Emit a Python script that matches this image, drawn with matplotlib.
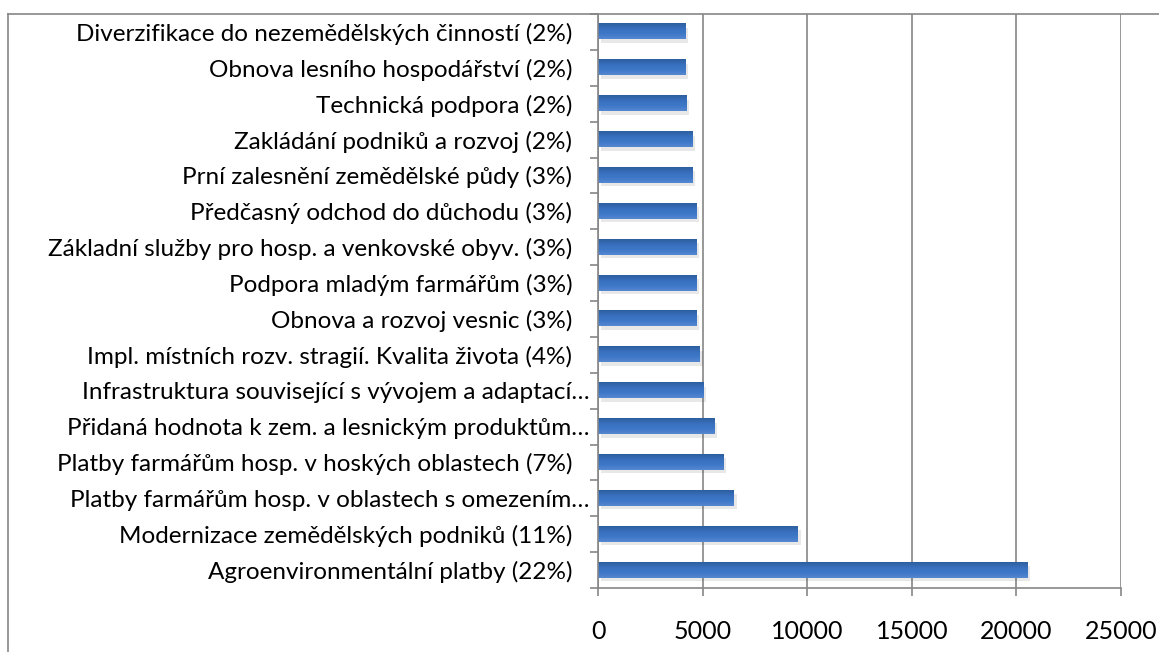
import matplotlib
matplotlib.use("Agg")
import matplotlib.pyplot as plt
import matplotlib.patheffects as pe
from matplotlib.lines import Line2D
from matplotlib.colors import LinearSegmentedColormap
import numpy as np

plt.rcParams['font.family'] = ['Lato', 'DejaVu Sans']

# Data (bottom to top)
categories = [
    "Agroenvironmentální platby (22%)",
    "Modernizace zemědělských podniků (11%)",
    "Platby farmářům hosp. v oblastech s omezením…",
    "Platby farmářům hosp. v hoských oblastech (7%)",
    "Přidaná hodnota k zem. a lesnickým produktům…",
    "Infrastruktura související s vývojem a adaptací…",
    "Impl. místních rozv. stragií. Kvalita života (4%)",
    "Obnova a rozvoj vesnic (3%)",
    "Podpora mladým farmářům (3%)",
    "Základní služby pro hosp. a venkovské obyv. (3%)",
    "Předčasný odchod do důchodu (3%)",
    "Prní zalesnění zemědělské půdy (3%)",
    "Zakládání podniků a rozvoj (2%)",
    "Technická podpora (2%)",
    "Obnova lesního hospodářství (2%)",
    "Diverzifikace do nezemědělských činností (2%)",
]
values = [20540, 9550, 6500, 5990, 5545, 5035, 4875, 4715,
          4685, 4685, 4685, 4525, 4525, 4220, 4160, 4160]
xticks = [0, 5000, 10000, 15000, 20000, 25000]

W, H = 1159, 652
fig = plt.figure(figsize=(W / 100, H / 100), dpi=100)
ax = fig.add_axes([598 / W, 1 - 588 / H, (1121 - 598) / W, (588 - 14) / H])

n = len(categories)
y = np.arange(n)
bars = ax.barh(y, values, height=0.42, color='#3A72C0', zorder=3,
               path_effects=[pe.SimplePatchShadow(offset=(2, -2.5), alpha=0.12, shadow_rgbFace='#444444'), pe.Normal()])

# gradient overlay on each bar
grad = np.linspace(0, 1, 64).reshape(-1, 1)
cmap = LinearSegmentedColormap.from_list('g', ['#5688D0', '#3D78C7', '#3870BD', '#2E5E9F'])
for b in bars:
    x0, y0, w, h = b.get_x(), b.get_y(), b.get_width(), b.get_height()
    ax.imshow(grad, extent=[x0, x0 + w, y0 + h, y0], aspect='auto', cmap=cmap,
              zorder=4, interpolation='bilinear', origin='upper')

ax.set_xlim(0, 25000)
ax.set_ylim(-0.5, n - 0.5)

gray = '#868686'
ax.set_xticks(xticks)
ax.set_xticklabels([str(t) for t in xticks], fontsize=18, color='black')
ax.tick_params(axis='x', direction='out', length=6, width=1.2, color=gray, pad=17)
ax.xaxis.grid(True, color=gray, linewidth=1.2, zorder=0)

ax.set_yticks(np.arange(-0.5, n, 1.0))
ax.set_yticklabels([])
ax.tick_params(axis='y', which='major', direction='out', length=6, width=1.2, color=gray)
ax.set_yticks(y, minor=True)
ax.set_yticklabels(categories, minor=True, fontsize=17.5, color='black')
ax.tick_params(axis='y', which='minor', length=0, pad=18.5)
for tick, lab in zip(ax.yaxis.get_minor_ticks(), categories):
    if lab.endswith('…'):
        tick.set_pad(6)

for s in ['top', 'right']:
    ax.spines[s].set_visible(False)
for s in ['left', 'bottom']:
    ax.spines[s].set_color(gray)
    ax.spines[s].set_linewidth(1.2)
    ax.spines[s].set_zorder(5)

# outer chart border (cropped)
fig.add_artist(Line2D([8 / W, 1], [1 - 14 / H, 1 - 14 / H], color=gray, lw=1.2, transform=fig.transFigure))
fig.add_artist(Line2D([8 / W, 8 / W], [0, 1 - 14 / H], color=gray, lw=1.2, transform=fig.transFigure))

fig.savefig('out.png', dpi=100)
